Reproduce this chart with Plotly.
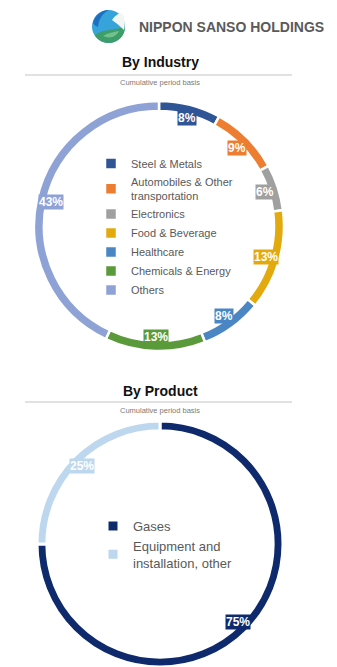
import math
import plotly.graph_objects as go

W, H = 337, 667

# ---- data ----
industry_labels = ["Steel & Metals", "Automobiles & Other<br>transportation", "Electronics",
                   "Food & Beverage", "Healthcare", "Chemicals & Energy", "Others"]
industry_values = [8, 9, 6, 13, 8, 13, 43]
industry_colors = ["#2f5597", "#ed7d31", "#a0a0a0", "#e3aa0e", "#4a86c4", "#5b9a3b", "#8ea2d6"]

product_labels = ["Gases", "Equipment and<br>installation, other"]
product_values = [75, 25]
product_colors = ["#0e2a6c", "#bdd7ee"]

FONT = "Liberation Sans, Arial, sans-serif"


def px(x):
    return x / W


def py(y):
    return 1 - y / H


# pie geometry in pixels (center x, center y, radius)
pie1 = (159, 226, 125)
pie2 = (160, 544, 123)


def domain(c):
    cx, cy, r = c
    return dict(x=[px(cx - r), px(cx + r)], y=[py(cy + r), py(cy - r)])


fig = go.Figure()
fig.add_trace(go.Pie(
    labels=industry_labels, values=industry_values, sort=False, direction="clockwise",
    rotation=0, hole=0.92, textinfo="none", hoverinfo="label+percent",
    marker=dict(colors=industry_colors, line=dict(color="white", width=2.5)),
    domain=domain(pie1), legend="legend", showlegend=True,
))
fig.add_trace(go.Pie(
    labels=product_labels, values=product_values, sort=False, direction="clockwise",
    rotation=0, hole=0.92, textinfo="none", hoverinfo="label+percent",
    marker=dict(colors=product_colors, line=dict(color="white", width=3)),
    domain=domain(pie2), legend="legend2", showlegend=True,
))

annotations = []


def ring_labels(values, colors, c, rl):
    cx, cy, r = c
    total = sum(values)
    cum = 0
    for v, col in zip(values, colors):
        mid = (cum + v / 2) / total * 2 * math.pi
        cum += v
        x = cx + rl * math.sin(mid)
        y = cy - rl * math.cos(mid)
        annotations.append(dict(
            x=px(x), y=py(y), xref="paper", yref="paper", showarrow=False,
            text=f"{round(v / total * 100)}%", bgcolor=col, borderpad=0,
            font=dict(family=FONT, size=12, color="white", weight="bold"),
            xanchor="center", yanchor="middle",
        ))


ring_labels(industry_values, industry_colors, pie1, 111)
ring_labels(product_values, product_colors, pie2, 110)

# titles
for title, ty, sy in [("By Industry", 62, 83), ("By Product", 391, 411)]:
    annotations.append(dict(x=px(160), y=py(ty), xref="paper", yref="paper", showarrow=False,
                            text=title, font=dict(family=FONT, size=14, color="#111111", weight="bold"),
                            xanchor="center", yanchor="middle"))
    annotations.append(dict(x=px(160), y=py(sy), xref="paper", yref="paper", showarrow=False,
                            text="Cumulative period basis",
                            font=dict(family=FONT, size=7.5, color="#7a7a7a"),
                            xanchor="center", yanchor="middle"))

# header brand text
annotations.append(dict(x=px(137), y=py(27), xref="paper", yref="paper", showarrow=False,
                        text="NIPPON SANSO HOLDINGS",
                        font=dict(family=FONT, size=14, color="#5a5a5a", weight="bold"),
                        xanchor="left", yanchor="middle"))

shapes = []
for ly in (75, 402):
    shapes.append(dict(type="line", xref="paper", yref="paper", x0=px(25), x1=px(292),
                       y0=py(ly), y1=py(ly), line=dict(color="#c4c4c4", width=1)))


# logo
def P(x, y):
    return f"{px(x):.5f},{py(y):.5f}"


shapes.append(dict(type="circle", xref="paper", yref="paper", x0=px(92), x1=px(125),
                   y0=py(43), y1=py(10), fillcolor="#36a3da", line=dict(width=0)))
dark = (f"M{P(93,23)} C{P(95,15)} {P(101,10.5)} {P(109,10)} C{P(103,13)} {P(99,18)} {P(98,27)} "
        f"C{P(96,26)} {P(94,25)} {P(93,23)} Z")
shapes.append(dict(type="path", xref="paper", yref="paper", path=dark,
                   fillcolor="#1d6fc0", line=dict(width=0)))
green = (f"M{P(95,35)} C{P(101,30)} {P(113,30)} {P(125,27)} C{P(125,36)} {P(118,43)} {P(108.5,43)} "
         f"C{P(102,43)} {P(97,39)} {P(95,35)} Z")
shapes.append(dict(type="path", xref="paper", yref="paper", path=green,
                   fillcolor="#3d9e6a", line=dict(width=0)))
light = (f"M{P(103,36)} C{P(108,33)} {P(114,32)} {P(119,31)} C{P(116,37)} {P(110,39)} {P(103,36)} Z")
shapes.append(dict(type="path", xref="paper", yref="paper", path=light,
                   fillcolor="#72c08e", line=dict(width=0)))
white = (f"M{P(112,20)} C{P(116,14)} {P(121,12)} {P(122.5,14)} C{P(124.5,18)} {P(125.5,24)} {P(124,30)} "
         f"C{P(120,26)} {P(116,23)} {P(112,20)} Z")
shapes.append(dict(type="path", xref="paper", yref="paper", path=white,
                   fillcolor="#f4f6f4", line=dict(width=0)))

fig.update_layout(
    width=W, height=H, margin=dict(l=0, r=0, t=0, b=0),
    paper_bgcolor="white", plot_bgcolor="white",
    font=dict(family=FONT),
    annotations=annotations, shapes=shapes,
    legend=dict(x=px(91), y=py(149), xanchor="left", yanchor="top",
                bgcolor="rgba(0,0,0,0)", font=dict(family=FONT, size=11, color="#595959"),
                itemclick=False, itemdoubleclick=False),
    legend2=dict(x=px(93), y=py(511), xanchor="left", yanchor="top",
                 bgcolor="rgba(0,0,0,0)", font=dict(family=FONT, size=13, color="#595959"),
                 itemclick=False, itemdoubleclick=False),
)

fig.write_html("out.html")
